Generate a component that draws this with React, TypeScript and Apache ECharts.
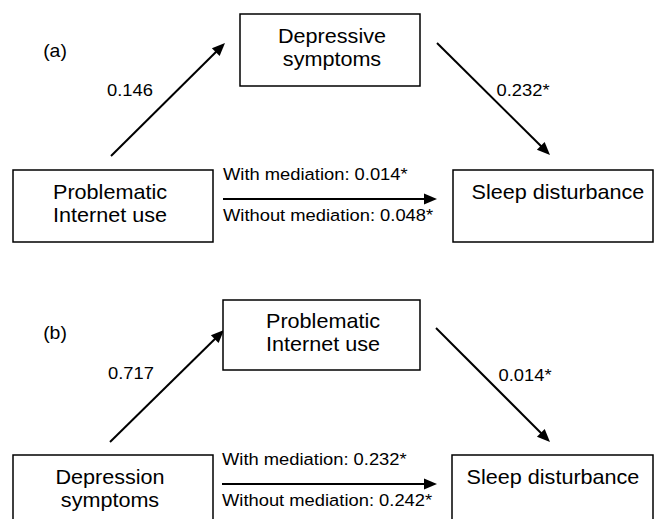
import React, { useEffect, useRef } from "react";
import * as echarts from "echarts";

// ---- Data (text content of the two mediation diagrams) ----
const panelLabels = ["(a)", "(b)"];
const predictors = [["Problematic", "Internet use"], ["Depression", "symptoms"]];
const mediators = [["Depressive", "symptoms"], ["Problematic", "Internet use"]];
const outcomes = [["Sleep disturbance"], ["Sleep disturbance"]];
const pathA = ["0.146", "0.717"];
const pathB = ["0.232*", "0.014*"];
const withMediation = ["0.014*", "0.232*"];
const withoutMediation = ["0.048*", "0.242*"];

// ---- Layout (positions / sizes only) ----
const layouts = [
  {
    label: [55, 51],
    medBox: [240, 14, 180, 72], medText: [332, 36],
    predBox: [13, 170, 200, 72], predText: [110, 192],
    outBox: [453, 170, 200, 72], outText: [558, 192],
    arrowA: [111, 156, 225, 43], aText: [130, 90],
    arrowB: [437, 43, 550, 155], bText: [523, 90],
    arrowC: [223, 199, 437, 199], withText: [223, 174], withoutText: [223, 215],
  },
  {
    label: [55, 333],
    medBox: [223, 300, 197, 70], medText: [323, 321],
    predBox: [13, 455, 200, 72], predText: [110, 477],
    outBox: [452, 455, 201, 72], outText: [553, 477],
    arrowA: [110, 442, 224, 330], aText: [131, 373],
    arrowB: [436, 328, 550, 442], bText: [525, 375],
    arrowC: [222, 484, 437, 484], withText: [222, 459], withoutText: [222, 500],
  },
];

const FONT = "'Liberation Sans', Arial, Helvetica, sans-serif";
const LINE_GAP = 22.5;
const SX = 1.08;

function textEl(str: string, x: number, y: number, size: number, align: string) {
  return {
    type: "text",
    x,
    y,
    scaleX: SX,
    silent: true,
    style: {
      text: str,
      x: 0,
      y: 0,
      fill: "#000",
      fontSize: size,
      fontFamily: FONT,
      align,
      verticalAlign: "middle",
    },
  };
}

function boxEls(box: number[], lines: string[], pos: number[]) {
  const els: any[] = [
    {
      type: "rect",
      shape: { x: box[0], y: box[1], width: box[2], height: box[3] },
      style: { fill: "#fff", stroke: "#000", lineWidth: 1.5 },
    },
  ];
  lines.forEach((l, i) => els.push(textEl(l, pos[0], pos[1] + i * LINE_GAP, 20, "center")));
  return els;
}

function arrowEls(a: number[]) {
  const [x1, y1, x2, y2] = a;
  const dx = x2 - x1, dy = y2 - y1;
  const len = Math.sqrt(dx * dx + dy * dy);
  const ux = dx / len, uy = dy / len;
  const head = 13, half = 5.5;
  const bx = x2 - ux * head, by = y2 - uy * head;
  const px = -uy, py = ux;
  return [
    {
      type: "line",
      shape: { x1, y1, x2: bx + ux * 2, y2: by + uy * 2 },
      style: { stroke: "#000", lineWidth: 2 },
    },
    {
      type: "polygon",
      shape: {
        points: [
          [x2, y2],
          [bx + px * half, by + py * half],
          [bx - px * half, by - py * half],
        ],
      },
      style: { fill: "#000" },
    },
  ];
}

export default function App() {
  const ref = useRef<HTMLDivElement>(null);
  useEffect(() => {
    document.body.style.margin = "0";
    const chart = echarts.init(ref.current!, null, { renderer: "svg" });
    const elements: any[] = [];
    layouts.forEach((L, i) => {
      elements.push(textEl(panelLabels[i], L.label[0], L.label[1], 18, "center"));
      elements.push(...arrowEls(L.arrowA));
      elements.push(...arrowEls(L.arrowB));
      elements.push(...arrowEls(L.arrowC));
      elements.push(...boxEls(L.medBox, mediators[i], L.medText));
      elements.push(...boxEls(L.predBox, predictors[i], L.predText));
      elements.push(...boxEls(L.outBox, outcomes[i], L.outText));
      elements.push(textEl(pathA[i], L.aText[0], L.aText[1], 17, "center"));
      elements.push(textEl(pathB[i], L.bText[0], L.bText[1], 17, "center"));
      elements.push(textEl("With mediation: " + withMediation[i], L.withText[0], L.withText[1], 17, "left"));
      elements.push(textEl("Without mediation: " + withoutMediation[i], L.withoutText[0], L.withoutText[1], 17, "left"));
    });
    chart.setOption({
      animation: false,
      backgroundColor: "#fff",
      graphic: { elements },
    });
    return () => chart.dispose();
  }, []);
  return (
    <div
      ref={ref}
      style={{ position: "absolute", left: 0, top: 0, width: 654, height: 519 }}
    />
  );
}
